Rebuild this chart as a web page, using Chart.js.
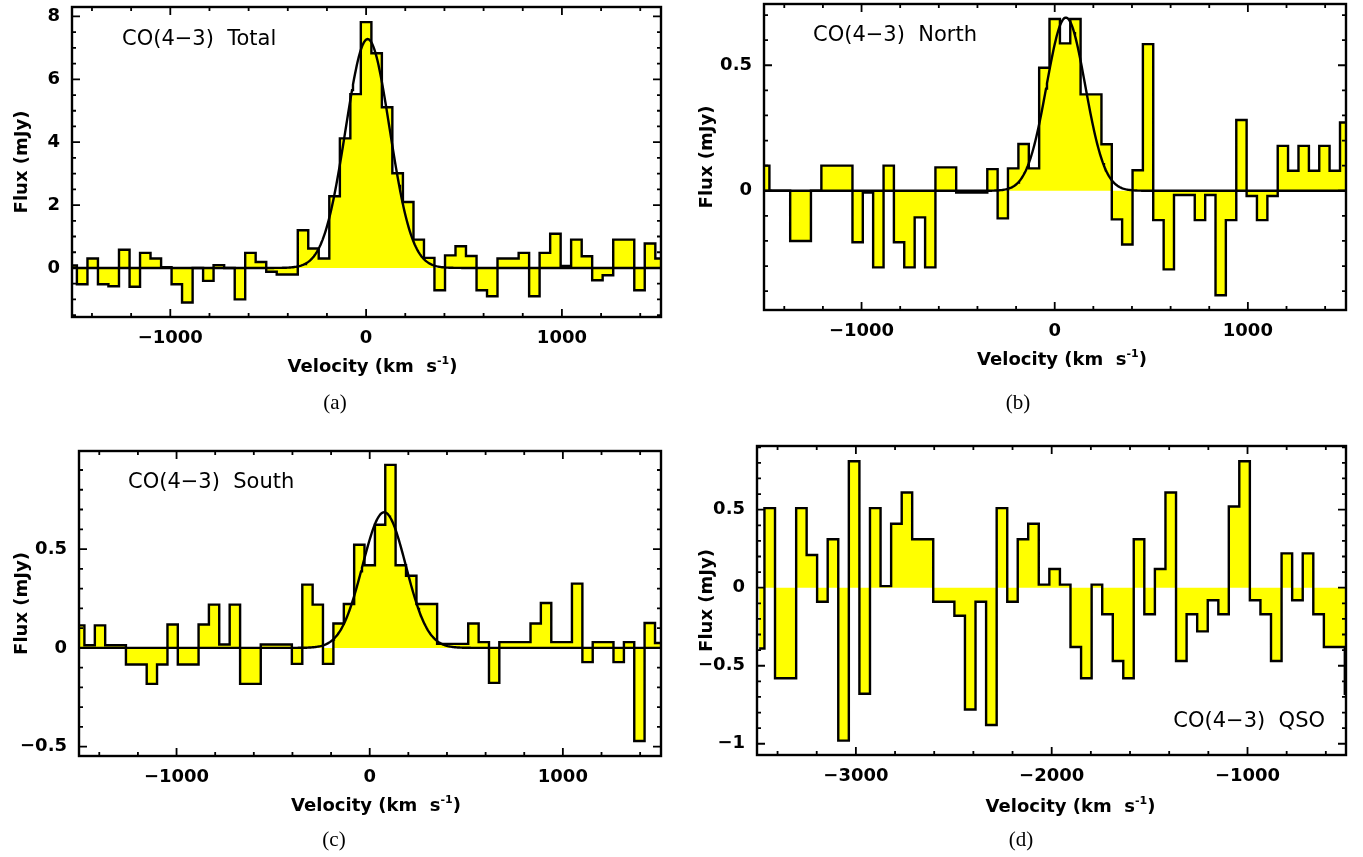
<!DOCTYPE html>
<html>
<head>
<meta charset="utf-8">
<script src="https://cdn.jsdelivr.net/npm/chart.js@4.4.1/dist/chart.umd.min.js"></script>
<style>
  body { margin: 0; background: #fff; width: 1363px; height: 857px; position: relative; overflow: hidden; }
  .panel { position: absolute; }
  .cap { position: absolute; font: 21px "Liberation Serif", serif; color: #000; transform: translate(-50%, -50%); }
</style>
</head>
<body>
<div class="panel" style="left:0px;top:0px"><canvas id="chart-a" width="680" height="425"></canvas></div>
<div class="panel" style="left:680px;top:0px"><canvas id="chart-b" width="683" height="425"></canvas></div>
<div class="panel" style="left:0px;top:430px"><canvas id="chart-c" width="680" height="427"></canvas></div>
<div class="panel" style="left:680px;top:430px"><canvas id="chart-d" width="683" height="427"></canvas></div>
<div class="cap" style="left:335px;top:402px">(a)</div>
<div class="cap" style="left:1018px;top:402px">(b)</div>
<div class="cap" style="left:334px;top:839px">(c)</div>
<div class="cap" style="left:1021px;top:839px">(d)</div>
<script>
// channel velocities (km/s), centre of each channel
const velocity = [-1504, -1450, -1396, -1343, -1289, -1235, -1181, -1128, -1074, -1020,
    -967, -913, -859, -806, -752, -698, -644, -591, -537, -483,
    -430, -376, -322, -269, -215, -161, -107, -54, 0, 54,
    107, 161, 215, 269, 322, 376, 430, 483, 537, 591,
    644, 698, 752, 806, 859, 913, 967, 1020, 1074, 1128,
    1181, 1235, 1289, 1343, 1396, 1450, 1504];
const velocityQso = [-3494, -3440, -3386, -3332, -3278, -3225, -3171, -3117, -3063, -3009,
    -2955, -2901, -2847, -2793, -2739, -2686, -2632, -2578, -2524, -2470,
    -2416, -2362, -2308, -2254, -2200, -2147, -2093, -2039, -1985, -1931,
    -1877, -1823, -1769, -1715, -1661, -1608, -1554, -1500, -1446, -1392,
    -1338, -1284, -1230, -1176, -1122, -1069, -1015, -961, -907, -853,
    -799, -745, -691, -637, -583, -530, -476];

// flux (mJy) per channel
const fluxTotal = [0.08, -0.52, 0.30, -0.52, -0.58, 0.58, -0.60, 0.48, 0.30, 0.02,
    -0.52, -1.10, 0.00, -0.41, 0.09, 0.00, -1.00, 0.48, 0.19, -0.12,
    -0.21, -0.21, 1.20, 0.62, 0.30, 2.28, 4.12, 5.53, 7.82, 6.83,
    5.11, 3.01, 2.10, 0.90, 0.32, -0.71, 0.40, 0.69, 0.38, -0.71,
    -0.90, 0.30, 0.30, 0.48, -0.90, 0.48, 1.09, 0.06, 0.90, 0.37,
    -0.39, -0.23, 0.90, 0.90, -0.71, 0.78, 0.30];
const fluxNorth = [0.10, 0.00, 0.00, -0.20, -0.20, 0.00, 0.10, 0.10, 0.10, -0.205,
    -0.007, -0.305, 0.10, -0.205, -0.305, -0.106, -0.305, 0.093, 0.093, -0.007,
    -0.007, -0.007, 0.086, -0.11, 0.089, 0.186, 0.089, 0.49, 0.684, 0.587,
    0.684, 0.384, 0.384, 0.185, -0.114, -0.214, 0.082, 0.584, -0.117, -0.313,
    -0.017, -0.017, -0.117, -0.017, -0.416, -0.117, 0.282, -0.021, -0.117, -0.021,
    0.179, 0.080, 0.179, 0.080, 0.179, 0.080, 0.272];
const fluxSouth = [0.114, 0.013, 0.114, 0.013, 0.013, -0.084, -0.084, -0.182, -0.084, 0.118,
    -0.084, -0.084, 0.118, 0.219, 0.017, 0.219, -0.182, -0.182, 0.017, 0.017,
    0.017, -0.081, 0.32, 0.219, -0.081, 0.123, 0.222, 0.522, 0.418, 0.623,
    0.926, 0.418, 0.365, 0.222, 0.222, 0.02, 0.02, 0.02, 0.123, 0.029,
    -0.177, 0.029, 0.029, 0.029, 0.123, 0.227, 0.029, 0.029, 0.325, -0.072,
    0.029, 0.029, -0.072, 0.029, -0.471, 0.126, 0.025];
const fluxQso = [-0.39, 0.51, -0.58, -0.58, 0.51, 0.21, -0.09, 0.31, -0.98, 0.81,
    -0.68, 0.51, 0.01, 0.41, 0.61, 0.31, 0.31, -0.09, -0.09, -0.18,
    -0.78, -0.09, -0.88, 0.51, -0.09, 0.31, 0.41, 0.02, 0.12, 0.02,
    -0.38, -0.58, 0.02, -0.17, -0.47, -0.58, 0.31, -0.17, 0.12, 0.61,
    -0.47, -0.17, -0.28, -0.08, -0.17, 0.52, 0.81, -0.08, -0.17, -0.47,
    0.22, -0.08, 0.22, -0.17, -0.38, -0.38, -0.68];

// gaussian fits: peak (mJy), centre and FWHM (km/s)
const fitTotal = { amp: 7.28, center: 8, fwhm: 265 };
const fitNorth = { amp: 0.69, center: 58, fwhm: 236 };
const fitSouth = { amp: 0.686, center: 75, fwhm: 264 };

// labelled ticks
const velTicks = [-1000, 0, 1000];
const velTicksQso = [-3000, -2000, -1000];
const fluxTicksTotal = [0, 2, 4, 6, 8];
const fluxTicksNorth = [0, 0.5];
const fluxTicksSouth = [-0.5, 0, 0.5];
const fluxTicksQso = [-1, -0.5, 0, 0.5];

const FONT = 'DejaVu Sans';
const LW = 2.4;

const fmt = (v) => v < 0 ? '\u2212' + Math.abs(v) : String(v);

function gaussPoints(fit, xmin, xmax) {
    const sigma = fit.fwhm / 2.3548;
    const pts = [];
    for (let x = xmin; x <= xmax; x += 5) {
        pts.push({ x: x, y: fit.amp * Math.exp(-0.5 * Math.pow((x - fit.center) / sigma, 2)) });
    }
    return pts;
}

function drawTicks(ctx, scale, a, step, majors, horizontal) {
    const n0 = Math.ceil(scale.min / step - 1e-9);
    const n1 = Math.floor(scale.max / step + 1e-9);
    for (let n = n0; n <= n1; n++) {
        const v = n * step;
        const major = majors.some(m => Math.abs(m - v) < step / 10);
        const len = major ? 8 : 4;
        const p = scale.getPixelForValue(v);
        if (horizontal) {
            ctx.moveTo(p, a.bottom); ctx.lineTo(p, a.bottom - len);
            ctx.moveTo(p, a.top); ctx.lineTo(p, a.top + len);
        } else {
            ctx.moveTo(a.left, p); ctx.lineTo(a.left + len, p);
            ctx.moveTo(a.right, p); ctx.lineTo(a.right - len, p);
        }
    }
}

// box around the plot with inward ticks on all four sides
const frameTicks = {
    id: 'frameTicks',
    afterDatasetsDraw(chart, args, opts) {
        const { ctx, chartArea: a, scales } = chart;
        ctx.save();
        ctx.strokeStyle = '#000';
        ctx.lineWidth = 1.8;
        ctx.beginPath();
        drawTicks(ctx, scales.x, a, opts.xMinor, opts.xMajor, true);
        drawTicks(ctx, scales.y, a, opts.yMinor, opts.yMajor, false);
        ctx.stroke();
        ctx.lineWidth = LW;
        ctx.strokeRect(a.left, a.top, a.right - a.left, a.bottom - a.top);
        ctx.restore();
    }
};

// line label and axis titles
const panelText = {
    id: 'panelText',
    afterDraw(chart, args, opts) {
        const { ctx, chartArea: a } = chart;
        ctx.save();
        ctx.fillStyle = '#000';
        ctx.textBaseline = 'alphabetic';

        ctx.font = '21px "' + FONT + '"';
        if (opts.labelRight) {
            ctx.textAlign = 'right';
            ctx.fillText(opts.label, a.right - opts.labelDx, a.bottom - opts.labelDy);
        } else {
            ctx.textAlign = 'left';
            ctx.fillText(opts.label, a.left + opts.labelDx, a.top + opts.labelDy);
        }

        // x title with superscript
        ctx.textAlign = 'left';
        const main = 'Velocity (km  s', sup = '-1', tail = ')';
        ctx.font = 'bold 18px "' + FONT + '"';
        const wMain = ctx.measureText(main).width;
        const wTail = ctx.measureText(tail).width;
        ctx.font = 'bold 11px "' + FONT + '"';
        const wSup = ctx.measureText(sup).width;
        const total = wMain + wSup + wTail;
        let x = (a.left + a.right) / 2 + opts.xTitleDx - total / 2;
        const yb = a.bottom + opts.xTitleDy;
        ctx.font = 'bold 18px "' + FONT + '"';
        ctx.fillText(main, x, yb);
        x += wMain;
        ctx.font = 'bold 11px "' + FONT + '"';
        ctx.fillText(sup, x, yb - 8);
        x += wSup;
        ctx.font = 'bold 18px "' + FONT + '"';
        ctx.fillText(tail, x, yb);

        // y title
        ctx.translate(opts.yTitleX, (a.top + a.bottom) / 2);
        ctx.rotate(-Math.PI / 2);
        ctx.textAlign = 'center';
        ctx.fillText('Flux (mJy)', 0, 0);
        ctx.restore();
    }
};

function makePanel(p) {
    const hist = p.vel.map((v, i) => ({ x: v, y: p.flux[i] }));
    const datasets = [];
    if (p.fit) {
        datasets.push({
            data: gaussPoints(p.fit, p.xRange[0], p.xRange[1]),
            borderColor: '#000', borderWidth: LW, pointRadius: 0, fill: false, tension: 0
        });
    }
    datasets.push({
        data: hist,
        stepped: 'middle',
        borderColor: '#000',
        borderWidth: LW,
        borderJoinStyle: 'miter',
        backgroundColor: '#ffff00',
        fill: 'origin',
        pointRadius: 0
    });

    const tickFont = { family: FONT, size: 18, weight: 'bold' };
    new Chart(document.getElementById(p.id), {
        type: 'line',
        data: { datasets: datasets },
        options: {
            responsive: false,
            animation: false,
            events: [],
            layout: { padding: { left: 0, top: p.pad.top, right: p.pad.right, bottom: p.pad.bottom } },
            plugins: {
                legend: { display: false },
                tooltip: { enabled: false },
                frameTicks: { xMinor: p.xMinor, yMinor: p.yMinor, xMajor: p.xTicks, yMajor: p.yTicks },
                panelText: {
                    label: p.label, labelRight: p.labelRight, labelDx: p.labelDx, labelDy: p.labelDy,
                    xTitleDx: p.xTitleDx, xTitleDy: p.xTitleDy, yTitleX: p.yTitleX
                }
            },
            scales: {
                x: {
                    type: 'linear',
                    min: p.xRange[0], max: p.xRange[1],
                    afterBuildTicks: (s) => { s.ticks = p.xTicks.map(v => ({ value: v })); },
                    afterFit: (s) => { s.height = 30; s.paddingLeft = 0; s.paddingRight = 0; },
                    grid: { display: false, drawTicks: false },
                    border: { display: false },
                    ticks: { padding: 11, font: tickFont, color: '#000', maxRotation: 0, autoSkip: false, callback: fmt }
                },
                y: {
                    type: 'linear',
                    min: p.yRange[0], max: p.yRange[1],
                    afterBuildTicks: (s) => { s.ticks = p.yTicks.map(v => ({ value: v })); },
                    afterFit: (s) => { s.width = p.yAxisW; s.paddingTop = 0; s.paddingBottom = 0; },
                    grid: { display: false, drawTicks: false },
                    border: { display: false },
                    ticks: { padding: 12, font: tickFont, color: '#000', autoSkip: false, callback: fmt }
                }
            }
        },
        plugins: [frameTicks, panelText]
    });
}

makePanel({
    id: 'chart-a', vel: velocity, flux: fluxTotal, fit: fitTotal,
    label: 'CO(4\u22123)  Total', labelDx: 50, labelDy: 38,
    xRange: [-1502, 1506], yRange: [-1.56, 8.3],
    xTicks: velTicks, yTicks: fluxTicksTotal, xMinor: 200, yMinor: 0.5,
    pad: { top: 7, right: 19, bottom: 78 }, yAxisW: 72,
    xTitleDx: 6, xTitleDy: 55, yTitleX: 27
});
makePanel({
    id: 'chart-b', vel: velocity, flux: fluxNorth, fit: fitNorth,
    label: 'CO(4\u22123)  North', labelDx: 49, labelDy: 37,
    xRange: [-1505, 1508], yRange: [-0.475, 0.744],
    xTicks: velTicks, yTicks: fluxTicksNorth, xMinor: 200, yMinor: 0.1,
    pad: { top: 4, right: 17, bottom: 85 }, yAxisW: 84,
    xTitleDx: 7, xTitleDy: 55, yTitleX: 32
});
makePanel({
    id: 'chart-c', vel: velocity, flux: fluxSouth, fit: fitSouth,
    label: 'CO(4\u22123)  South', labelDx: 49, labelDy: 37,
    xRange: [-1505, 1508], yRange: [-0.547, 0.996],
    xTicks: velTicks, yTicks: fluxTicksSouth, xMinor: 200, yMinor: 0.1,
    pad: { top: 21, right: 19, bottom: 71 }, yAxisW: 79,
    xTitleDx: 6, xTitleDy: 55, yTitleX: 27
});
makePanel({
    id: 'chart-d', vel: velocityQso, flux: fluxQso, fit: null,
    label: 'CO(4\u22123)  QSO', labelRight: true, labelDx: 21, labelDy: 28,
    xRange: [-3505, -497], yRange: [-1.072, 0.908],
    xTicks: velTicksQso, yTicks: fluxTicksQso, xMinor: 200, yMinor: 0.1,
    pad: { top: 16, right: 17, bottom: 72 }, yAxisW: 77,
    xTitleDx: 19, xTitleDy: 57, yTitleX: 32
});
</script>
</body>
</html>
